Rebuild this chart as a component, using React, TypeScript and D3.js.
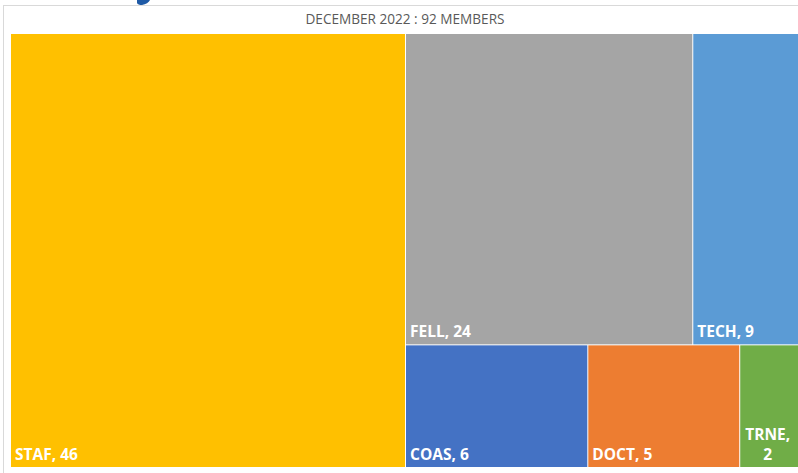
import React from "react";
import * as d3 from "d3";

const title = "DECEMBER 2022 : 92 MEMBERS";
const categories = ["STAF", "FELL", "TECH", "COAS", "DOCT", "TRNE"];
const values = [46, 24, 9, 6, 5, 2];
const colors = ["#FFC000", "#A5A5A5", "#5B9BD5", "#4472C4", "#ED7D31", "#70AD47"];
// Excel treemap grouping of the categories (indices into arrays above)
const topRow = [1, 2];
const bottomRow = [3, 4, 5];

const W = 798;
const H = 473;
const plot = { x0: 11, y0: 34, x1: 800, y1: 467 };
const labelFont = "bold 15.5px 'Open Sans', sans-serif";

function measure(text: string, font: string): number {
  const c = document.createElement("canvas").getContext("2d");
  if (!c) return text.length * 8;
  c.font = font;
  return c.measureText(text).width;
}

type Node = { name: string; idx?: number; value?: number; children?: Node[] };

export default function App() {
  const leaf = (i: number): Node => ({ name: categories[i], idx: i, value: values[i] });
  const data: Node = {
    name: "root",
    children: [
      leaf(0),
      {
        name: "rest",
        children: [
          { name: "top", children: topRow.map(leaf) },
          { name: "bottom", children: bottomRow.map(leaf) },
        ],
      },
    ],
  };
  const root = d3
    .hierarchy<Node>(data)
    .sum((d) => (d.children ? 0 : d.value || 0));
  d3
    .treemap<Node>()
    .tile(d3.treemapSliceDice)
    .size([plot.x1 - plot.x0, plot.y1 - plot.y0])
    .paddingInner(1)
    .round(false)(root);

  const leaves = root.leaves() as d3.HierarchyRectangularNode<Node>[];

  return (
    <svg
      width={W}
      height={H}
      style={{ position: "absolute", left: 0, top: 0, background: "#fff" }}
    >
      <rect x={0} y={0} width={W} height={H} fill="#fff" />
      {/* fragment of element above the chart */}
      <path d="M137,0 L150,0 Q148,4 142,5 Q138,5 137,3 Z" fill="#1F5AA6" />
      {/* chart border */}
      <rect x={3.5} y={5.5} width={W + 10} height={H + 10} fill="none" stroke="#D9D9D9" strokeWidth={1} />
      <text
        x={405}
        y={24}
        textAnchor="middle"
        fontFamily="'Open Sans', sans-serif"
        fontSize={13.6}
        fill="#595959"
      >
        {title}
      </text>
      <g transform={`translate(${plot.x0},${plot.y0})`}>
        {leaves.map((d) => {
          const i = d.data.idx as number;
          const w = d.x1 - d.x0;
          const label = `${categories[i]}, ${values[i]}`;
          const lw = measure(label, labelFont);
          let lines: string[] = [label];
          if (lw > w - 8) lines = [`${categories[i]},`, `${values[i]}`];
          const maxW = Math.max(...lines.map((l) => measure(l, labelFont)));
          const lineH = 20;
          const baseY = d.y1 - 7;
          return (
            <g key={d.data.name}>
              <rect x={d.x0} y={d.y0} width={w} height={d.y1 - d.y0} fill={colors[i]} />
              {lines.map((l, k) => (
                <text
                  key={k}
                  x={lines.length > 1 ? d.x0 + 5 + maxW / 2 : d.x0 + 4}
                  y={baseY - (lines.length - 1 - k) * lineH}
                  textAnchor={lines.length > 1 ? "middle" : "start"}
                  fill="#fff"
                  style={{ font: labelFont }}
                >
                  {l}
                </text>
              ))}
            </g>
          );
        })}
      </g>
    </svg>
  );
}
